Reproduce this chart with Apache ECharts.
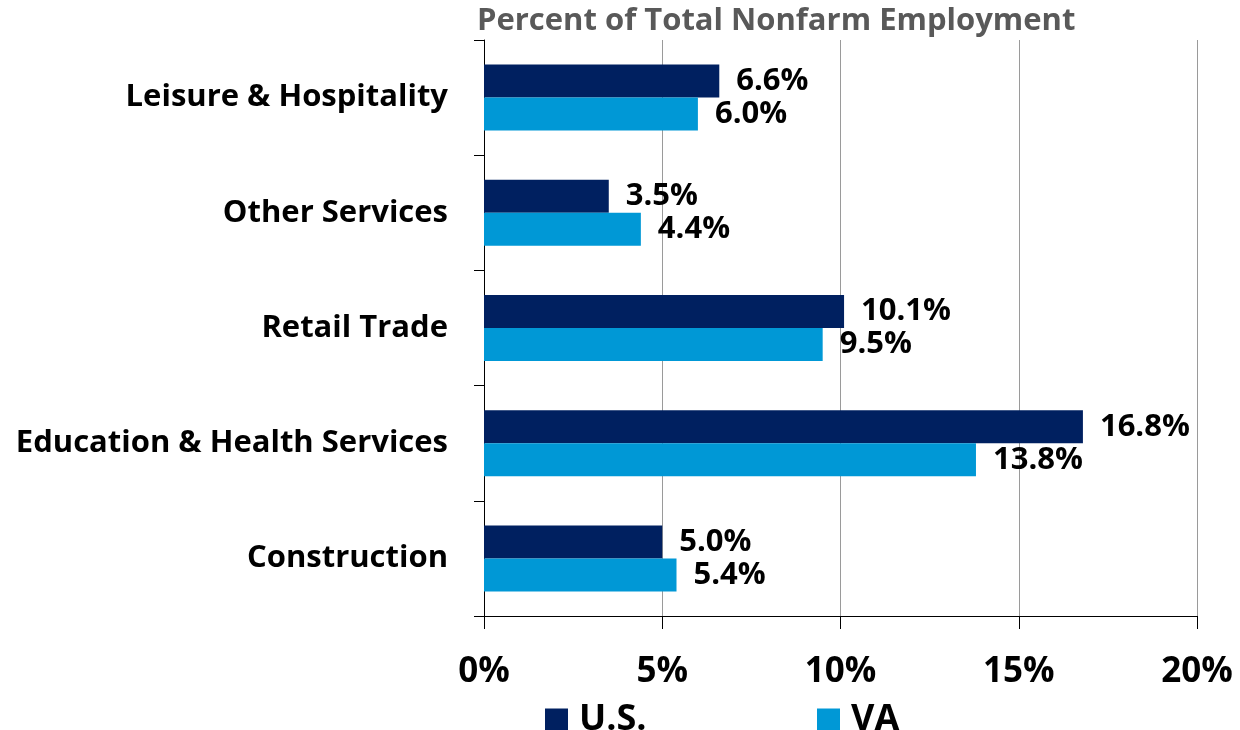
<!DOCTYPE html>
<html>
<head>
<meta charset="utf-8">
<script src="https://cdn.jsdelivr.net/npm/echarts@6/dist/echarts.min.js"></script>
<style>
  html, body { margin: 0; padding: 0; background: #fff; }
  #chart { width: 1240px; height: 730px; }
</style>
</head>
<body>
<div id="chart"></div>
<script>
  // categories listed bottom to top
  var categories = ['Construction', 'Education & Health Services', 'Retail Trade', 'Other Services', 'Leisure & Hospitality']
  var usValues = [5.0, 16.8, 10.1, 3.5, 6.6]
  var vaValues = [5.4, 13.8, 9.5, 4.4, 6.0]
  var xTicks = [0, 5, 10, 15, 20]

  var FONT = 'Open Sans'
  var NAVY = '#002060'
  var LIGHT = '#0098D6'

  var chart = echarts.init(document.getElementById('chart'))

  var barLabel = {
    show: true,
    position: 'right',
    distance: 17,
    color: '#000',
    fontFamily: FONT,
    fontWeight: 'bold',
    fontSize: 31,
    formatter: function (p) { return p.value.toFixed(1) + '%' }
  }

  var legendText = {
    color: '#000',
    fontFamily: FONT,
    fontWeight: 'bold',
    fontSize: 36,
    lineHeight: 36,
    padding: [0, 0, 0, 6]
  }

  var option = {
    animation: false,
    title: {
      text: 'Percent of Total Nonfarm Employment',
      left: 472,
      top: 1,
      textStyle: {
        color: '#595959',
        fontFamily: FONT,
        fontWeight: 'bold',
        fontSize: 31
      }
    },
    legend: [
      {
        data: ['U.S.'],
        left: 540,
        top: 697,
        itemWidth: 23,
        itemHeight: 23,
        icon: 'rect',
        textStyle: legendText
      },
      {
        data: ['VA'],
        left: 812,
        top: 697,
        itemWidth: 23,
        itemHeight: 23,
        icon: 'rect',
        textStyle: legendText
      }
    ],
    grid: {
      left: 484,
      right: 43,
      top: 40,
      bottom: 114
    },
    xAxis: {
      type: 'value',
      min: xTicks[0],
      max: xTicks[xTicks.length - 1],
      interval: 5,
      axisLine: { show: true, lineStyle: { color: '#000', width: 1 } },
      axisTick: { show: true, length: 13, lineStyle: { color: '#000' } },
      splitLine: { show: true, lineStyle: { color: '#9a9a9a', width: 1 } },
      axisLabel: {
        margin: 39,
        color: '#000',
        fontFamily: FONT,
        fontWeight: 'bold',
        fontSize: 35,
        formatter: '{value}%'
      }
    },
    yAxis: {
      type: 'category',
      data: categories,
      axisLine: { show: true, lineStyle: { color: '#000', width: 1 } },
      axisTick: { show: true, length: 10, lineStyle: { color: '#000' } },
      axisLabel: {
        margin: 36,
        color: '#000',
        fontFamily: FONT,
        fontWeight: 'bold',
        fontSize: 31
      }
    },
    series: [
      {
        name: 'U.S.',
        type: 'bar',
        barWidth: 33,
        barGap: '0%',
        itemStyle: { color: NAVY },
        label: barLabel,
        data: usValues
      },
      {
        name: 'VA',
        type: 'bar',
        barWidth: 33,
        barGap: '0%',
        itemStyle: { color: LIGHT },
        label: barLabel,
        data: vaValues
      }
    ]
  }

  chart.setOption(option)
</script>
</body>
</html>
